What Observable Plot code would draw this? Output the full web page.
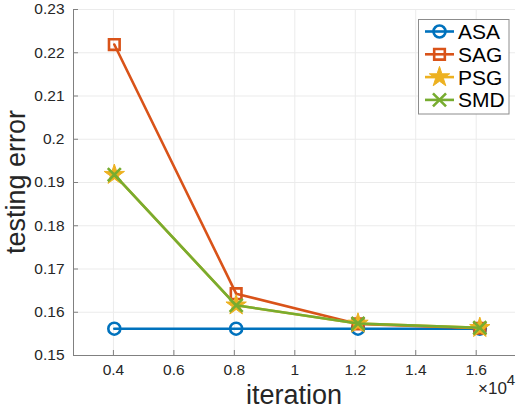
<!DOCTYPE html>
<html><head><meta charset="utf-8">
<script src="https://cdn.jsdelivr.net/npm/d3@7"></script>
<script src="https://cdn.jsdelivr.net/npm/@observablehq/plot@0.6"></script>
<style>
body{margin:0;background:#fff;}
svg{font-family:"Liberation Sans",Arial,sans-serif;}
</style></head>
<body><div id="chart"></div>
<script>
const iterations = [4030, 8060, 12090, 16120];
const ASA = [0.1562, 0.1562, 0.1562, 0.1562];
const SAG = [0.2219, 0.1643, 0.1573, 0.1563];
const PSG = [0.1918, 0.1616, 0.1574, 0.1564];
const SMD = [0.1918, 0.1616, 0.1574, 0.1564];
const seriesNames = ["ASA", "SAG", "PSG", "SMD"];
const seriesColors = ["#0072BD", "#D95319", "#EDB120", "#77AC30"];
const xTicks = [4000, 6000, 8000, 10000, 12000, 14000, 16000];
const yTicks = [0.15, 0.16, 0.17, 0.18, 0.19, 0.20, 0.21, 0.22, 0.23];
const xDomain = [2680, 17300];
const yDomain = [0.15, 0.23];

const values = {ASA, SAG, PSG, SMD};
const data = seriesNames.flatMap(s => iterations.map((x, i) => ({series: s, x, y: values[s][i]})));
const sel = s => data.filter(d => d.series === s);
const col = s => seriesColors[seriesNames.indexOf(s)];

const W = 520, H = 409, mL = 73, mR = 5, mT = 9, mB = 54;
const xSpan = xDomain[1] - xDomain[0], ySpan = yDomain[1] - yDomain[0];
const tickLenX = xSpan * 5 / (W - mL - mR);
const tickLenY = ySpan * 5 / (H - mT - mB);
const sw = 2.6;

const plot = Plot.plot({
  width: W, height: H,
  marginLeft: mL, marginRight: mR, marginTop: mT, marginBottom: mB,
  x: {domain: xDomain},
  y: {domain: yDomain},
  style: {fontFamily: "Liberation Sans, Arial, sans-serif", background: "#fff"},
  marks: [
    Plot.ruleX(xTicks, {y1: yDomain[0], y2: yDomain[1], stroke: "#ebebeb", strokeWidth: 1}),
    Plot.ruleY(yTicks, {x1: xDomain[0], x2: xDomain[1], stroke: "#ebebeb", strokeWidth: 1}),
    Plot.ruleX([xDomain[0]], {y1: yDomain[0], y2: yDomain[1], stroke: "#808080", strokeWidth: 1}),
    Plot.ruleY([yDomain[0]], {x1: xDomain[0], x2: xDomain[1], stroke: "#808080", strokeWidth: 1}),
    Plot.ruleY(yTicks, {x1: xDomain[0], x2: xDomain[0] + tickLenX, stroke: "#808080"}),
    Plot.ruleX(xTicks, {y1: yDomain[0], y2: yDomain[0] + tickLenY, stroke: "#808080"}),
    Plot.axisY(yTicks, {tickSize: 0, tickPadding: 9, fontSize: 15.5, fill: "#262626", tickFormat: d => String(+d.toFixed(2)), label: null}),
    Plot.axisX(xTicks, {tickSize: 0, tickPadding: 8, fontSize: 15.5, fill: "#262626", tickFormat: d => String(+(d / 1e4).toFixed(1)), label: null}),
    // ASA
    Plot.line(sel("ASA"), {x: "x", y: "y", stroke: col("ASA"), strokeWidth: sw}),
    Plot.dot(sel("ASA"), {x: "x", y: "y", r: 6, symbol: "circle", stroke: col("ASA"), strokeWidth: sw, fill: "none"}),
    // SAG
    Plot.line(sel("SAG"), {x: "x", y: "y", stroke: col("SAG"), strokeWidth: sw}),
    Plot.dot(sel("SAG"), {x: "x", y: "y", r: 6, symbol: "square", stroke: col("SAG"), strokeWidth: sw, fill: "none"}),
    // PSG
    Plot.line(sel("PSG"), {x: "x", y: "y", stroke: col("PSG"), strokeWidth: sw}),
    Plot.dot(sel("PSG"), {x: "x", y: "y", r: 6.4, symbol: "star", fill: col("PSG"), stroke: col("PSG"), strokeWidth: 1}),
    // SMD
    Plot.line(sel("SMD"), {x: "x", y: "y", stroke: col("SMD"), strokeWidth: sw}),
    Plot.dot(sel("SMD"), {x: "x", y: "y", r: 6, symbol: "times", stroke: col("SMD"), strokeWidth: sw})
  ]
});
document.getElementById("chart").appendChild(plot);

const svg = d3.select(plot);
// axis titles
svg.append("text").attr("x", (mL + W - mR) / 2).attr("y", 404).attr("text-anchor", "middle")
  .attr("font-size", 27).attr("fill", "#262626").text("iteration");
svg.append("text").attr("transform", `translate(25,${(mT + H - mB) / 2}) rotate(-90)`).attr("text-anchor", "middle")
  .attr("font-size", 27).attr("fill", "#262626").text("testing error");
// exponent
const ex = svg.append("text").attr("x", 478).attr("y", 394).attr("font-size", 17).attr("fill", "#262626").attr("text-anchor", "start");
ex.append("tspan").text("\u00d710");
ex.append("tspan").attr("dy", -9).attr("font-size", 15).text("4");

// legend
const lg = svg.append("g");
lg.append("rect").attr("x", 418.5).attr("y", 19.5).attr("width", 90.5).attr("height", 94.5)
  .attr("fill", "#fff").attr("stroke", "#8c8c8c").attr("stroke-width", 1);
const symbols = {ASA: d3.symbolCircle, SAG: d3.symbolSquare, PSG: d3.symbolStar, SMD: d3.symbolTimes};
const sizes = {ASA: Math.PI * 36, SAG: Math.PI * 36, PSG: Math.PI * 6.4 * 6.4, SMD: Math.PI * 36};
seriesNames.forEach((s, i) => {
  const cy = 31.5 + i * 22.8;
  lg.append("line").attr("x1", 425).attr("x2", 454).attr("y1", cy).attr("y2", cy)
    .attr("stroke", col(s)).attr("stroke-width", sw);
  const filled = s === "PSG";
  lg.append("path").attr("d", d3.symbol(symbols[s], sizes[s])()).attr("transform", `translate(439.5,${cy})`)
    .attr("fill", filled ? col(s) : "none").attr("stroke", col(s)).attr("stroke-width", filled ? 1 : sw);
  lg.append("text").attr("x", 458).attr("y", cy + 7.5).attr("font-size", 21).attr("fill", "#000")
    .attr("text-anchor", "start").text(s);
});
</script>
</body></html>
